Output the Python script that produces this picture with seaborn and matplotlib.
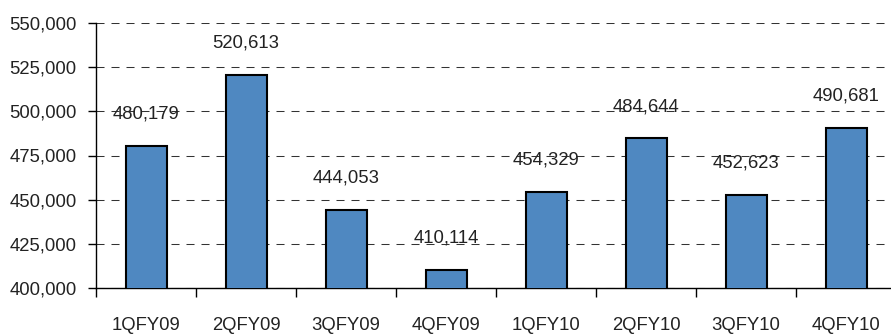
import matplotlib
matplotlib.use("Agg")
import matplotlib.pyplot as plt
import seaborn as sns
import pandas as pd
from matplotlib.ticker import FuncFormatter, FixedLocator

quarters = ["1QFY09", "2QFY09", "3QFY09", "4QFY09", "1QFY10", "2QFY10", "3QFY10", "4QFY10"]
values = [480179, 520613, 444053, 410114, 454329, 484644, 452623, 490681]
yticks = [400000, 425000, 450000, 475000, 500000, 525000, 550000]

sns.set_theme(style="white")
plt.rcParams['font.family'] = ['Liberation Sans', 'DejaVu Sans']

df = pd.DataFrame({"quarter": quarters, "value": values})

fig = plt.figure(figsize=(8.91, 3.35), dpi=100)
ax = fig.add_axes([96/891, 47/335, 800/891, 265/335])

sns.barplot(data=df, x="quarter", y="value", color="#4F88C1", saturation=1,
            width=0.41, edgecolor="black", linewidth=1.5, ax=ax, zorder=3)

ax.set_xlim(-0.5, len(quarters) - 0.5)
ax.set_ylim(yticks[0], yticks[-1])
ax.set_yticks(yticks)
ax.yaxis.set_major_formatter(FuncFormatter(lambda v, p: f"{int(v):,}"))
ax.set_axisbelow(True)
ax.yaxis.grid(True, color="#333333", linewidth=0.75, linestyle=(0, (7.7, 6.7)))
ax.xaxis.grid(False)

for s in ["top", "right"]:
    ax.spines[s].set_visible(False)
for s in ["left", "bottom"]:
    ax.spines[s].set_color("black")
    ax.spines[s].set_linewidth(1.0)

ax.set_xlabel("")
ax.set_ylabel("")

fs = 13.3
ax.tick_params(axis="y", which="major", direction="out", length=6, width=1.0,
               color="black", pad=8, labelsize=fs, labelcolor="#222222", left=True)
ax.xaxis.set_minor_locator(FixedLocator([i - 0.5 for i in range(len(quarters) + 1)]))
ax.tick_params(axis="x", which="minor", direction="out", length=6.5, width=1.0,
               color="black", bottom=True)
ax.tick_params(axis="x", which="major", length=0, pad=21, labelsize=fs,
               labelcolor="#222222")

for i, v in enumerate(values):
    ax.annotate(f"{v:,}", xy=(i, v), xytext=(0, 23), textcoords="offset points",
                ha="center", va="center", fontsize=fs, color="#222222", zorder=5)

fig.savefig("out.png", dpi=100)
